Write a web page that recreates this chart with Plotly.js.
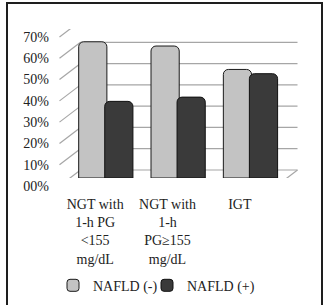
<!DOCTYPE html>
<html>
<head>
<meta charset="utf-8">
<script src="https://cdn.plot.ly/plotly-3.0.1.min.js"></script>
<style>
  html, body { margin: 0; padding: 0; background: #fff; }
  #wrap { position: relative; width: 327px; height: 305px; overflow: hidden; }
  #chart { width: 327px; height: 305px; }
  #frame { position: absolute; left: 6px; top: 2px; width: 313px; height: 330px;
           border: 2px solid #1e1e1e; pointer-events: none; }
</style>
</head>
<body>
<div id="wrap">
  <div id="chart"></div>
  <div id="frame"></div>
</div>
<script>
// ---- data ----
var categories = [
  "NGT with<br>1-h PG<br>&lt;155<br>mg/dL",
  "NGT with<br>1-h<br>PG≥155<br>mg/dL",
  "IGT"
];
var seriesNames = ["NAFLD (-)", "NAFLD (+)"];
var nafldNeg = [64, 62, 51];
var nafldPos = [36, 38, 49];
var tickVals = [0, 10, 20, 30, 40, 50, 60, 70];
var tickText = ["00%", "10%", "20%", "30%", "40%", "50%", "60%", "70%"];

// ---- layout geometry ----
var W = 327, H = 305;
var mL = 70, mR = 40, mT = 29, mB = 119;
var plotW = W - mL - mR;
var plotH = H - mT - mB;
var depthX = 10.5, depthY = 8;      // half depth of the pseudo-3D box, px
var dxp = depthX / plotW;            // paper units
var yFrac = (2 * depthY) / plotH;

var gridColor = "#a6a6a6";
var shapes = [];
tickVals.forEach(function (v) {
  shapes.push({type: "line", layer: "below", xref: "paper", yref: "y",
    ysizemode: "pixel", yanchor: v, x0: dxp, x1: 1 + dxp, y0: depthY, y1: depthY,
    line: {color: gridColor, width: 1.2}});
  shapes.push({type: "line", layer: "below", xref: "paper", yref: "y",
    ysizemode: "pixel", yanchor: v, x0: -dxp, x1: dxp, y0: -depthY, y1: depthY,
    line: {color: gridColor, width: 1.2}});
});
shapes.push({type: "line", layer: "below", xref: "paper", yref: "y",
  ysizemode: "pixel", yanchor: tickVals[0], x0: -dxp, x1: 1 - dxp, y0: -depthY, y1: -depthY,
  line: {color: gridColor, width: 1.2}});
shapes.push({type: "line", layer: "below", xref: "paper", yref: "y",
  ysizemode: "pixel", yanchor: tickVals[0], x0: 1 - dxp, x1: 1 + dxp, y0: -depthY, y1: depthY,
  line: {color: gridColor, width: 1.2}});

var font = {family: "Liberation Serif, Times New Roman, serif", size: 14, color: "#222"};

var traces = [
  {type: "bar", name: seriesNames[0], x: categories, y: nafldNeg,
   xaxis: "x", yaxis: "y", offset: -0.38, width: 0.39, legend: "legend",
   marker: {color: "#c3c3c3", line: {color: "#1a1a1a", width: 1}, cornerradius: 5},
   hoverinfo: "skip"},
  {type: "bar", name: seriesNames[1], x: categories, y: nafldPos,
   xaxis: "x", yaxis: "y", offset: -0.02, width: 0.39, legend: "legend2",
   marker: {color: "#3a3a3a", line: {color: "#111", width: 1}, cornerradius: 5},
   hoverinfo: "skip"},
  {type: "scatter", x: categories, y: nafldNeg, xaxis: "x", yaxis: "y2",
   mode: "none", showlegend: false, hoverinfo: "skip"}
];

var legendY = (186 - 285.7) / plotH;
function legendAt(textStartPx) {
  return {orientation: "h", xref: "paper", yref: "paper",
          x: (textStartPx - 37 - mL) / plotW, xanchor: "left",
          y: legendY, yanchor: "middle",
          font: font, itemwidth: 30, bgcolor: "rgba(0,0,0,0)"};
}

var layout = {
  width: W, height: H,
  margin: {l: mL, r: mR, t: mT, b: mB, pad: 0, autoexpand: false},
  paper_bgcolor: "#fff", plot_bgcolor: "rgba(0,0,0,0)",
  font: font,
  barmode: "overlay",
  showlegend: true,
  legend: legendAt(90),
  legend2: legendAt(184),
  xaxis: {type: "category", range: [-0.5, 2.5], anchor: "y2",
          showgrid: false, zeroline: false, showline: false, ticks: "", tickfont: font,
          ticklabelshift: -11, ticklabelstandoff: 8, tickangle: 0},
  yaxis: {domain: [yFrac / 2, 1], range: [0, 70], anchor: "x",
          showgrid: false, zeroline: false, showline: false,
          showticklabels: false, ticks: ""},
  yaxis2: {domain: [0, 1 - yFrac / 2], range: [0, 70], anchor: "x", side: "left",
           showgrid: false, zeroline: false, showline: false,
           ticks: "", tickvals: tickVals, ticktext: tickText, tickfont: font,
           ticklabelstandoff: 20},
  shapes: shapes
};

Plotly.newPlot("chart", traces, layout, {staticPlot: true, displayModeBar: false});
</script>
</body>
</html>
